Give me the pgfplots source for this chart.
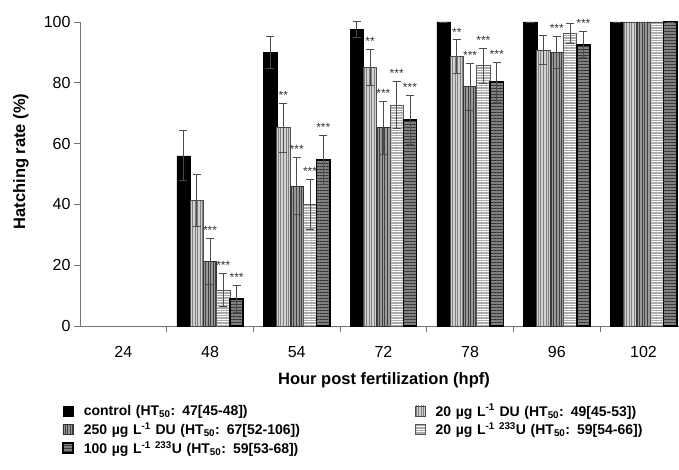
\documentclass[border=0pt]{standalone}
\usepackage{pgfplots}
\pgfplotsset{compat=1.18}
\usepackage{pgfplotstable}
\usetikzlibrary{patterns.meta}
\usepackage{fontspec}
\setmainfont{Liberation Sans}

\pgfplotstableread{
x y e s
1 56 8.2 {}
2 90 5.2 {}
3 97.5 2.7 {}
4 100 0 {}
5 100 0 {}
6 100 0 {}
}\ctrl
\pgfplotstableread{
x y e s
1 41.4 8.6 {}
2 65.2 8.0 **
3 85.0 6.0 **
4 88.6 5.5 **
5 90.8 4.9 {}
6 100 0 {}
}\duA
\pgfplotstableread{
x y e s
1 21.3 7.5 ***
2 46.0 9.4 ***
3 65.2 8.8 ***
4 78.7 7.7 ***
5 90.0 5.4 ***
6 100 0 {}
}\duB
\pgfplotstableread{
x y e s
1 11.8 5.4 ***
2 40.0 8.2 ***
3 72.7 7.7 ***
4 85.6 5.7 ***
5 96.3 3.3 {}
6 100 0 {}
}\uA
\pgfplotstableread{
x y e s
1 8.9 4.3 ***
2 54.7 8.0 ***
3 67.8 8.0 ***
4 80.2 6.5 ***
5 92.5 4.3 ***
6 100 0 {}
}\uB

\pgfplotsset{
  mylegend/.style={legend image code/.code={\draw[##1] (0pt,-5pt) rectangle (10pt,5pt);}},
}

\begin{document}
\begin{tikzpicture}
\begin{axis}[
  scale only axis, width=599pt, height=304pt,
  at={(0,0)}, anchor=south west,
  xmin=-0.5, xmax=6.41, ymin=0, ymax=100,
  ybar=0pt, bar width=13.3pt,
  axis lines*=left,
  axis line style={black!55, line width=0.8pt},
  tick style={black!55, line width=0.8pt},
  tick align=outside,
  major tick length=6pt, minor tick length=6pt,
  xtick={0,...,6}, xticklabels={24,48,54,72,78,96,102},
  major x tick style={draw=none},
  minor xtick={0.5,1.5,2.5,3.5,4.5,5.5},
  ytick={0,20,40,60,80,100},
  /pgf/number format/assume math mode=true,
  tick label style={font=\fontsize{16}{19}\selectfont},
  xticklabel style={yshift=-11pt},
  ylabel={Hatching rate (\%)},
  xlabel={Hour post fertilization (hpf)},
  every axis y label/.style={at={(axis description cs:0,0.541)}, xshift=-59pt, rotate=90, anchor=center,
    font=\fontsize{16.5}{19}\selectfont\bfseries},
  every axis x label/.style={at={(axis description cs:0,0)}, xshift=304pt, yshift=-54pt, anchor=center,
    font=\fontsize{16.5}{19}\selectfont\bfseries},
  clip=false,
  error bars/y dir=both, error bars/y explicit,
  error bars/error bar style={black!70, line width=0.9pt},
  error bars/error mark options={rotate=90, mark size=4pt, black!70, line width=0.9pt},
  point meta=explicit symbolic,
  nodes near coords,
  visualization depends on={\thisrow{e} \as \err},
  nodes near coords style={font=\fontsize{12}{12}\selectfont, text=black!80, anchor=south, yshift=\err*3.04pt+1.5pt, inner sep=2pt},
  legend columns=2,
  legend cell align=left,
  legend style={draw=none, fill=none, at={(axis description cs:0,0)}, anchor=north west,
    xshift=-18pt, yshift=-76pt, inner sep=0pt, row sep=1pt,
    font=\fontsize{14}{16.5}\selectfont\bfseries,
    nodes={text width=329pt, inner sep=2pt},
    /tikz/every odd column/.append style={column sep=8pt}},
]
\addplot[mylegend, draw=black, fill=black] table[x=x, y=y, y error=e, meta=s] {\ctrl};
\addlegendentry{control (HT\textsubscript{50}: 47[45-48])}
\addplot[mylegend, draw=black!70, line width=0.8pt, fill=black!18,
  postaction={pattern={Lines[angle=90,distance=2.6pt,line width=0.9pt]}, pattern color=black!50}]
  table[x=x, y=y, y error=e, meta=s] {\duA};
\addlegendentry{20 µg L\textsuperscript{-1} DU (HT\textsubscript{50}: 49[45-53])}
\addplot[mylegend, draw=black!80, line width=0.8pt, fill=black!40,
  postaction={pattern={Lines[angle=90,distance=2.6pt,line width=0.9pt]}, pattern color=black!75}]
  table[x=x, y=y, y error=e, meta=s] {\duB};
\addlegendentry{250 µg L\textsuperscript{-1} DU (HT\textsubscript{50}: 67[52-106])}
\addplot[mylegend, draw=black!65, line width=0.8pt, fill=black!33,
  postaction={pattern={Lines[angle=0,distance=2.5pt,line width=0.7pt]}, pattern color=white}]
  table[x=x, y=y, y error=e, meta=s] {\uA};
\addlegendentry{20 µg L\textsuperscript{-1 233}U (HT\textsubscript{50}: 59[54-66])}
\addplot[mylegend, draw=black, line width=1.6pt, fill=black!50,
  postaction={pattern={Lines[angle=0,distance=3pt,line width=0.9pt]}, pattern color=black!80}]
  table[x=x, y=y, y error=e, meta=s] {\uB};
\addlegendentry{100 µg L\textsuperscript{-1 233}U (HT\textsubscript{50}: 59[53-68])}
\end{axis}
\pgfresetboundingbox
\path[use as bounding box] (-80pt,-143pt) rectangle (599pt,326pt);
\end{tikzpicture}
\end{document}
